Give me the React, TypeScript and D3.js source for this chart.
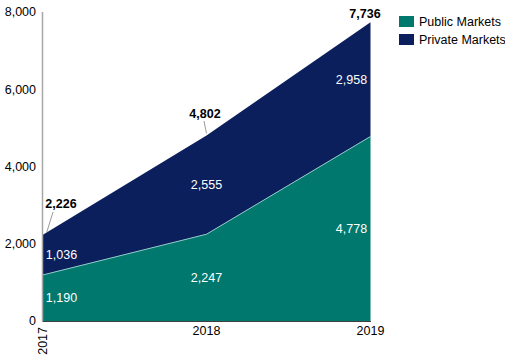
import React from "react";
import * as d3 from "d3";

const years = ["2017", "2018", "2019"];
const publicMarkets = [1190, 2247, 4778];
const privateMarkets = [1036, 2555, 2958];
const totals = [2226, 4802, 7736];
const yTicks = [0, 2000, 4000, 6000, 8000];
const seriesNames = ["Public Markets", "Private Markets"];

const W = 505, H = 358;
const TEAL = "#00786d";
const NAVY = "#0b1f5c";
const FONT = "Arial, 'Liberation Sans', sans-serif";

export default function App() {
  const x = d3.scalePoint<string>().domain(years).range([42.5, 370.5]);
  const y = d3.scaleLinear().domain([0, 8000]).range([321, 12]);
  const fmt = d3.format(",");
  const idx = years.map((_, i) => i);

  const pubArea = d3.area<number>()
    .x(i => x(years[i])!)
    .y0(() => y(0))
    .y1(i => y(publicMarkets[i]));
  const privArea = d3.area<number>()
    .x(i => x(years[i])!)
    .y0(i => y(publicMarkets[i]))
    .y1(i => y(publicMarkets[i] + privateMarkets[i]));
  const boundary = d3.line<number>()
    .x(i => x(years[i])!)
    .y(i => y(publicMarkets[i]));

  const lx = (i: number) => (i === 0 ? x(years[i])! + 19 : i === 2 ? x(years[i])! - 19 : x(years[i])!);

  return (
    <svg width={W} height={H} style={{ position: "absolute", left: 0, top: 0 }} fontFamily={FONT}>
      <rect width={W} height={H} fill="#fff" />
      <path d={pubArea(idx)!} fill={TEAL} />
      <path d={privArea(idx)!} fill={NAVY} />
      <path d={boundary(idx)!} fill="none" stroke="#8fc9c7" strokeWidth={1} />
      <line x1={42.5} x2={42.5} y1={y(8000)} y2={y(0)} stroke="#a6a6a6" strokeWidth={1.5} />
      <line x1={42.5} x2={371} y1={y(0) + 0.5} y2={y(0) + 0.5} stroke="#404040" strokeWidth={1} />
      {yTicks.map(t => (
        <text key={t} x={36} y={y(t)} dy="0.35em" textAnchor="end" fontSize={12.5} fill="#000">{fmt(t)}</text>
      ))}
      {years.map((yr, i) =>
        i === 0 ? (
          <text key={yr} transform={`translate(${x(yr)! + 4},${327}) rotate(-90)`} textAnchor="end" fontSize={12.5} fill="#000">{yr}</text>
        ) : (
          <text key={yr} x={x(yr)!} y={335} textAnchor="middle" fontSize={12.5} fill="#000">{yr}</text>
        )
      )}
      {idx.map(i => (
        <g key={i}>
          <text x={lx(i)} y={y(publicMarkets[i] / 2)} dy="0.35em" textAnchor="middle" fontSize={12.5} fill="#fff">{fmt(publicMarkets[i])}</text>
          <text x={lx(i)} y={y(publicMarkets[i] + privateMarkets[i] / 2)} dy="0.35em" textAnchor="middle" fontSize={12.5} fill="#fff">{fmt(privateMarkets[i])}</text>
        </g>
      ))}
      <line x1={53} y1={212} x2={x(years[0])! + 4} y2={y(totals[0]) - 2} stroke="#808080" strokeWidth={0.8} />
      <line x1={204} y1={121} x2={x(years[1])!} y2={y(totals[1]) - 2} stroke="#808080" strokeWidth={0.8} />
      <text x={61} y={204} dy="0.35em" textAnchor="middle" fontSize={12.5} fontWeight="bold" fill="#000">{fmt(totals[0])}</text>
      <text x={205} y={114} dy="0.35em" textAnchor="middle" fontSize={12.5} fontWeight="bold" fill="#000">{fmt(totals[1])}</text>
      <text x={365} y={14} dy="0.35em" textAnchor="middle" fontSize={12.5} fontWeight="bold" fill="#000">{fmt(totals[2])}</text>
      {seriesNames.map((s, i) => (
        <g key={s} transform={`translate(399,${16 + i * 18})`}>
          <rect width={15} height={11} fill={i === 0 ? TEAL : NAVY} />
          <text x={20} y={5.5} dy="0.35em" fontSize={12.5} fill="#000">{s}</text>
        </g>
      ))}
    </svg>
  );
}
